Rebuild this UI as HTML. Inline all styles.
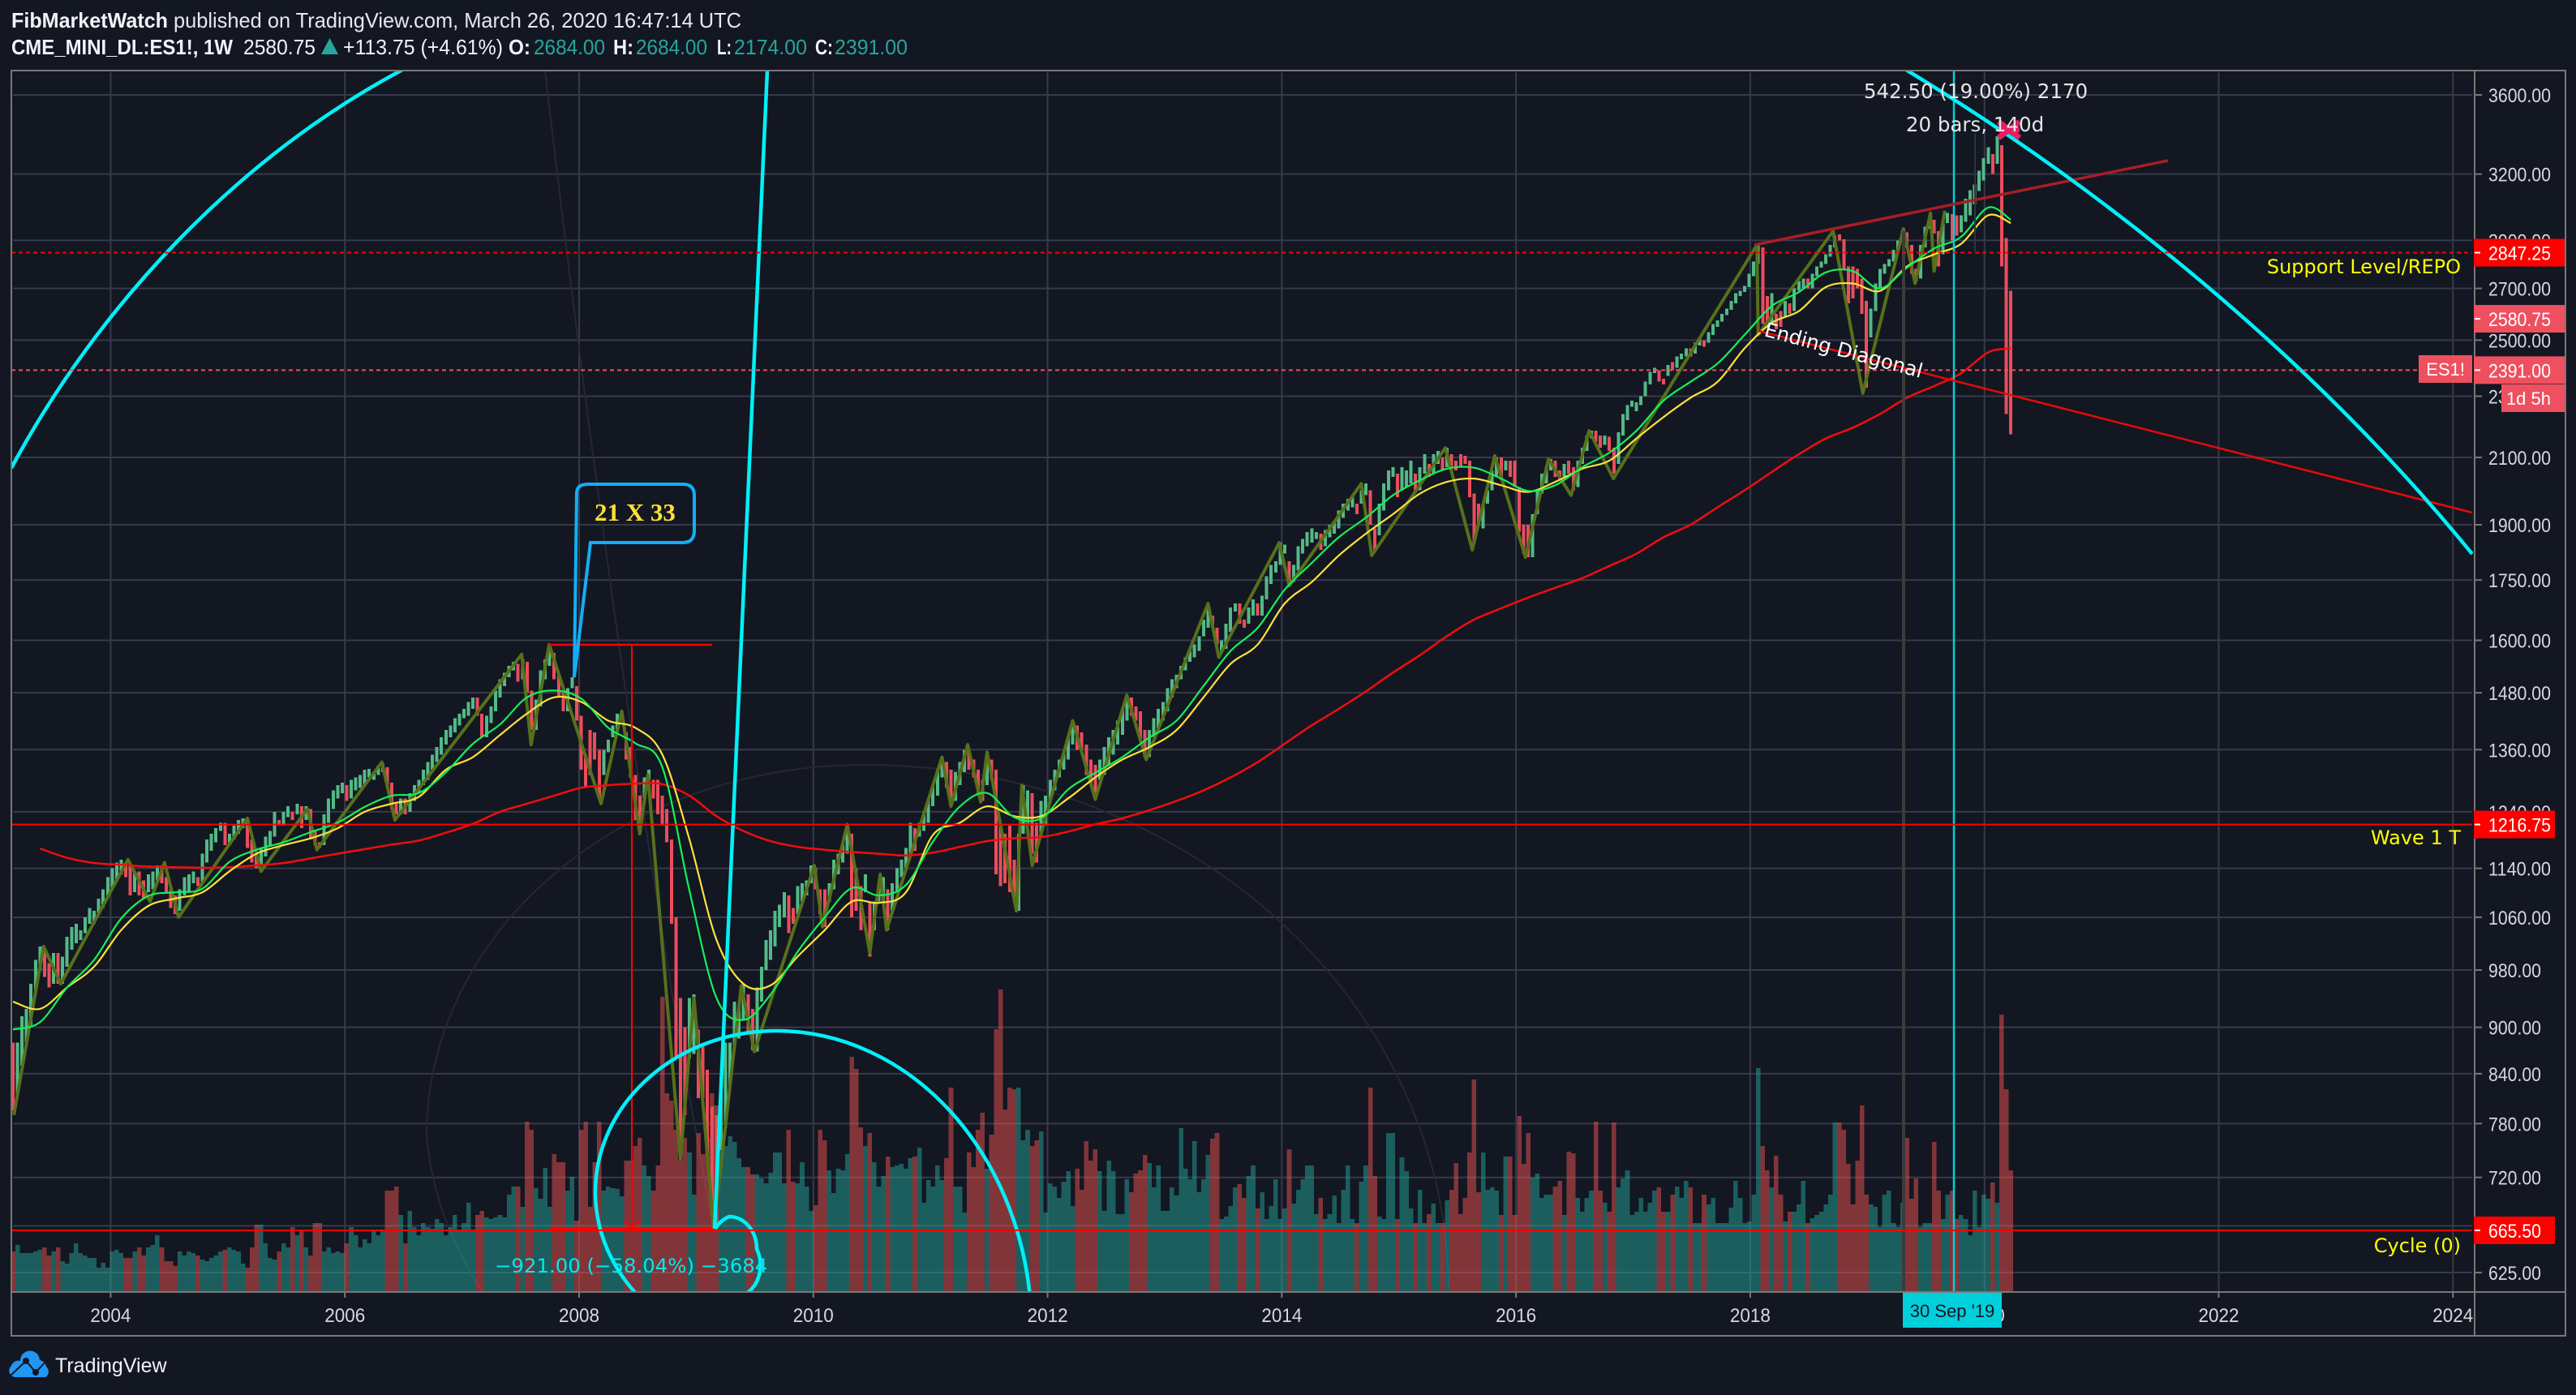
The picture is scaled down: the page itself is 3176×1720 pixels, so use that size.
<!DOCTYPE html>
<html lang="en">
<head>
<meta charset="utf-8">
<title>ES1! weekly chart</title>
<style>
html,body{margin:0;padding:0;background:#131722;width:3176px;height:1720px;overflow:hidden}
svg{display:block}
text{font-family:"Liberation Sans",sans-serif}
.dj{font-family:"DejaVu Sans",sans-serif}
</style>
</head>
<body>
<svg id="chart" xmlns="http://www.w3.org/2000/svg" width="3176" height="1720" viewBox="0 0 3176 1720">
<defs><clipPath id="plotClip"><rect x="15" y="88" width="3034" height="1505"/></clipPath></defs>
<rect x="0" y="0" width="3176" height="1720" fill="#131722"/>

<g font-size="26" fill="#f0f3fa">
<text x="14" y="34" font-weight="700" textLength="193" lengthAdjust="spacingAndGlyphs">FibMarketWatch</text>
<text x="214" y="34" fill="#e6e8ee" textLength="700" lengthAdjust="spacingAndGlyphs">published on TradingView.com, March 26, 2020 16:47:14 UTC</text>
<text x="14" y="67" font-weight="700" textLength="273" lengthAdjust="spacingAndGlyphs">CME_MINI_DL:ES1!, 1W</text>
<text x="300" y="67" textLength="89" lengthAdjust="spacingAndGlyphs">2580.75</text>
<polygon points="396,67 417,67 406.5,47" fill="#26a69a"/>
<text x="423" y="67" textLength="197" lengthAdjust="spacingAndGlyphs">+113.75 (+4.61%)</text>
<text x="627" y="67" font-weight="700" textLength="27" lengthAdjust="spacingAndGlyphs">O:</text>
<text x="658" y="67" fill="#26a69a" textLength="88" lengthAdjust="spacingAndGlyphs">2684.00</text>
<text x="756" y="67" font-weight="700" textLength="25" lengthAdjust="spacingAndGlyphs">H:</text>
<text x="784" y="67" fill="#26a69a" textLength="88" lengthAdjust="spacingAndGlyphs">2684.00</text>
<text x="884" y="67" font-weight="700" textLength="18" lengthAdjust="spacingAndGlyphs">L:</text>
<text x="905" y="67" fill="#26a69a" textLength="90" lengthAdjust="spacingAndGlyphs">2174.00</text>
<text x="1005" y="67" font-weight="700" textLength="22" lengthAdjust="spacingAndGlyphs">C:</text>
<text x="1029" y="67" fill="#26a69a" textLength="90" lengthAdjust="spacingAndGlyphs">2391.00</text>
</g>

<g id="gridLayer"></g>

<g clip-path="url(#plotClip)" fill="none" stroke="#252833" stroke-width="2">
<path d="M1066,943 A540,457 0 0 0 526,1400 A540,457 0 0 0 600,1600"/>
<path d="M1066,943 A720,650 0 0 1 1786,1593"/>
<path d="M672,87 C720,500 800,1100 880,1515"/>
</g>

<g id="volumeLayer" clip-path="url(#plotClip)"></g>
<g id="candleLayer" clip-path="url(#plotClip)"></g>
<g id="swingLayer" clip-path="url(#plotClip)"></g>
<g id="maLayer" clip-path="url(#plotClip)"></g>

<g clip-path="url(#plotClip)" fill="none">
<line x1="2347" y1="285" x2="2347" y2="1593" stroke="#3c3c3c" stroke-width="4"/>
<line x1="2409" y1="88" x2="2409" y2="1593" stroke="#00cfdc" stroke-width="2.5"/>
<line x1="2435" y1="165" x2="2435" y2="310" stroke="#2b3645" stroke-width="2"/>
<line x1="2163" y1="302" x2="2673" y2="198" stroke="#a81e24" stroke-width="3.5"/>
<line x1="2168" y1="408" x2="3048" y2="632" stroke="#e60a0a" stroke-width="2.5"/>
<line x1="677" y1="795" x2="878" y2="795" stroke="#ff0000" stroke-width="2.5"/>
<line x1="779" y1="795" x2="779" y2="1515" stroke="#ff0000" stroke-width="2"/>
<line x1="677" y1="1515" x2="881" y2="1515" stroke="#ff0000" stroke-width="4"/>
<polyline points="769,1505 779,1515 789,1505" stroke="#ff0000" stroke-width="2"/>
<g stroke="#00f0f8" stroke-width="4.5">
<path d="M14,577 C120,380 290,195 500,84"/>
<path d="M2340,80 C2590,230 2850,440 3048,683"/>
<path d="M881,1515 C892,1250 905,900 946,87"/>
<path d="M957,1271 A223,199 0 0 0 734,1470 A223,199 0 0 0 790,1601"/>
<path d="M957,1271 A315,370 0 0 1 1272,1641"/>
<path d="M882,1515 A34,40 0 0 1 899,1500 A34,40 0 0 1 933,1540 A34,40 0 0 1 905,1600"/>
</g>
<path d="M2464,150 L2490,170 M2490,150 L2464,170 M2464,160 H2490" stroke="#e91e63" stroke-width="7"/>
</g>

<g id="levelLayer"></g>

<g>
<text class="dj" x="0" y="0" font-size="24.5" fill="#ffffff" transform="translate(2174,414) rotate(15)">Ending Diagonal</text>
<text class="dj" x="3034" y="337" font-size="24" fill="#ffff00" text-anchor="end">Support Level/REPO</text>
<text class="dj" x="3034" y="1041" font-size="24" fill="#ffff00" text-anchor="end">Wave 1 T</text>
<text class="dj" x="3034" y="1544" font-size="24" fill="#ffff00" text-anchor="end">Cycle (0)</text>
<text class="dj" x="2436" y="121" font-size="24.5" fill="#e6e6e6" text-anchor="middle">542.50 (19.00%) 2170</text>
<text class="dj" x="2435" y="162" font-size="24.5" fill="#e6e6e6" text-anchor="middle">20 bars, 140d</text>
<text class="dj" x="610" y="1569" font-size="24.4" fill="#00e8f0">−921.00 (−58.04%) −3684</text>
<path d="M711,608 Q711,597 725,597 L842,597 Q856,597 856,611 L856,654 Q856,669 842,669 L728,669 L708,835 L711,608 Z" fill="none" stroke="#12aef5" stroke-width="4"/>
<text x="783" y="642" font-size="31" font-weight="700" fill="#ffe135" text-anchor="middle" style="font-family:'Liberation Serif',serif">21 X 33</text>
</g>

<g id="axisLayer"></g>

<g fill="none" stroke="#787878" stroke-width="2">
<rect x="14" y="87" width="3149" height="1560"/>
<line x1="3051" y1="87" x2="3051" y2="1647"/>
<line x1="14" y1="1593" x2="3163" y2="1593"/>
</g>

<g id="tagLayer"></g>

<g>
<rect x="2346" y="1594" width="122" height="43" fill="#00cfdc"/>
<text x="2407" y="1624" font-size="22" fill="#131722" text-anchor="middle">30 Sep '19</text>
<rect x="2982" y="438" width="66" height="34" fill="#ee5060"/>
<text x="3039" y="463" font-size="22" fill="#fff" text-anchor="end">ES1!</text>
<rect x="3084" y="474" width="78" height="34" fill="#ee5060"/>
<text x="3145" y="499" font-size="22" fill="#fff" text-anchor="end">1d 5h</text>
</g>

<g>
<path d="M20,1698 a8,8 0 0 1 -6,-14 a9,9 0 0 1 11,-6 a12,12 0 0 1 24,-1 a10,10 0 0 1 8,8 a8,8 0 0 1 -1,13 z" fill="#2196f3"/>
<polyline points="13,1696 32,1678 44,1692 59,1676" fill="none" stroke="#131722" stroke-width="2"/>
<circle cx="32" cy="1678" r="4" fill="#131722"/>
<circle cx="44" cy="1692" r="4" fill="#131722"/>
<text x="68" y="1692" font-size="25" fill="#f0f3fa">TradingView</text>
</g>
</svg>

<script>
const priceTicks = [3600,3200,2900,2700,2500,2300,2100,1900,1750,1600,1480,1360,1240,1140,1060,980,900,840,780,720,670,625];
const yearTicks = [2004,2006,2008,2010,2012,2014,2016,2018,2020,2022,2024];
const tagPrices = [2847.25,2580.75,2391.00,1216.75,665.50];
const linePrices = [2847.25,2391.00,1216.75,665.50];

const opens = [
880,815,850,880,900,950,980,1010,990,960,
1005,960,985,1010,1020,1025,1035,1050,1050,1065,
1075,1095,1105,1120,1130,1150,1145,1100,1135,1120,
1100,1105,1120,1145,1125,1105,1095,1070,1095,1100,
1115,1125,1115,1150,1170,1185,1205,1220,1180,1190,
1200,1210,1225,1190,1170,1145,1160,1180,1195,1225,
1215,1230,1240,1235,1250,1225,1245,1205,1185,1180,
1220,1245,1265,1275,1290,1265,1280,1285,1290,1305,
1300,1310,1315,1325,1295,1255,1235,1265,1240,1260,
1275,1290,1300,1320,1335,1350,1370,1385,1395,1410,
1425,1430,1445,1470,1435,1385,1415,1440,1470,1495,
1515,1530,1545,1510,1550,1485,1400,1450,1510,1540,
1570,1520,1480,1440,1490,1495,1430,1350,1400,1395,
1360,1310,1355,1385,1395,1425,1395,1365,1310,1270,
1265,1300,1300,1300,1270,1245,1190,1060,940,900,
860,865,897,875,845,800,790,750,775,825,
875,885,910,945,925,868,935,980,995,1015,
1045,1060,1095,1075,1065,1085,1095,1115,1140,1105,
1105,1085,1105,1130,1150,1165,1200,1140,1110,1100,
1085,1040,1085,1085,1105,1070,1100,1125,1140,1165,
1210,1195,1205,1220,1250,1270,1305,1335,1320,1260,
1290,1315,1360,1340,1320,1300,1290,1340,1320,1215,
1200,1215,1155,1070,1200,1215,1275,1220,1195,1215,
1260,1280,1305,1320,1340,1370,1410,1395,1370,1340,
1330,1300,1310,1330,1350,1370,1390,1420,1470,1450,
1440,1400,1345,1385,1400,1420,1440,1470,1490,1510,
1530,1550,1560,1575,1610,1630,1660,1630,1570,1580,
1620,1670,1690,1650,1640,1660,1690,1660,1700,1740,
1770,1790,1820,1800,1745,1775,1820,1840,1850,1860,
1875,1840,1865,1875,1890,1920,1940,1950,1960,1960,
1985,2000,1890,1870,1940,2000,2040,2050,2000,2010,
2020,2050,2000,2050,2080,2050,2080,2100,2070,2110,
2090,2110,2105,2090,1990,1960,1890,1960,2000,2040,
2100,2060,2090,2090,2010,1900,1900,1810,1930,1990,
2020,2060,2090,2060,2040,2090,2070,2010,2080,2120,
2160,2185,2170,2140,2165,2130,2080,2170,2220,2265,
2250,2270,2300,2340,2380,2390,2360,2370,2420,2400,
2430,2440,2470,2450,2480,2500,2490,2520,2550,2570,
2595,2615,2640,2670,2685,2705,2750,2800,2870,2670,
2560,2600,2610,2590,2640,2610,2690,2700,2740,2700,
2750,2785,2800,2830,2870,2925,2905,2790,2790,2780,
2740,2650,2510,2610,2700,2760,2790,2810,2850,2890,
2935,2880,2780,2740,2870,2950,2990,2940,2840,2975,
3015,3010,2935,2980,3010,3060,3120,3170,3250,3296,
3250,3340,2910,2690];

const closes = [
795,880,915,925,960,995,1015,970,955,1005,
960,1000,1030,1045,1050,1040,1060,1075,1070,1090,
1105,1125,1140,1150,1155,1125,1095,1135,1095,1090,
1130,1135,1145,1115,1100,1075,1065,1105,1125,1130,
1135,1110,1165,1190,1200,1210,1220,1180,1200,1215,
1225,1228,1175,1150,1140,1175,1195,1205,1240,1215,
1240,1250,1225,1255,1210,1250,1190,1180,1175,1235,
1265,1280,1290,1295,1260,1300,1305,1310,1320,1322,
1315,1328,1332,1290,1245,1235,1265,1235,1275,1290,
1300,1320,1335,1350,1365,1385,1400,1410,1425,1435,
1445,1460,1470,1430,1385,1430,1450,1485,1510,1525,
1540,1550,1505,1555,1480,1400,1465,1530,1555,1585,
1510,1470,1440,1490,1515,1420,1320,1285,1310,1340,
1265,1360,1380,1410,1435,1440,1340,1305,1225,1200,
1305,1320,1265,1235,1215,1185,1050,860,745,790,
940,945,810,810,745,680,670,835,880,880,
935,925,960,895,870,955,985,1025,1040,1070,
1080,1100,1035,1050,1110,1115,1120,1145,1105,1065,
1045,1115,1155,1165,1185,1215,1060,1070,1040,1130,
1000,1085,1115,1125,1040,1115,1140,1155,1175,1220,
1170,1220,1240,1265,1290,1320,1340,1285,1255,1315,
1335,1360,1320,1305,1270,1260,1355,1300,1130,1110,
1115,1100,1085,1200,1290,1280,1165,1150,1260,1270,
1300,1320,1340,1355,1385,1415,1360,1360,1310,1290,
1270,1340,1365,1385,1400,1420,1445,1475,1430,1420,
1380,1345,1400,1425,1445,1460,1490,1510,1520,1540,
1560,1575,1590,1610,1650,1690,1630,1590,1600,1640,
1680,1690,1640,1630,1680,1700,1660,1710,1760,1790,
1800,1850,1845,1740,1790,1840,1860,1880,1890,1880,
1830,1885,1900,1910,1940,1960,1975,1985,1930,2000,
2020,1900,1830,1960,2020,2060,2070,1980,2070,2060,
2090,2000,2070,2110,2040,2110,2120,2060,2130,2070,
2060,2070,2080,1980,1850,1900,1960,2000,2060,2100,
2030,2090,2040,2010,1880,1820,1810,1930,2000,2050,
2070,2095,2040,2030,2080,2050,2000,2090,2130,2170,
2185,2150,2130,2170,2120,2050,2180,2240,2270,2285,
2280,2300,2350,2385,2400,2350,2340,2410,2390,2440,
2450,2470,2440,2490,2510,2475,2530,2560,2575,2600,
2620,2650,2680,2690,2710,2760,2810,2880,2560,2550,
2680,2540,2550,2650,2600,2700,2730,2740,2700,2760,
2790,2810,2840,2880,2920,2900,2780,2640,2660,2700,
2600,2330,2620,2720,2780,2800,2820,2860,2900,2940,
2870,2760,2730,2880,2960,3000,2930,2790,2980,3020,
2900,2920,3010,3085,3125,3150,3217,3276,3331,3200,
3385,2790,2240,2174];

const volumes = [
50,58,48,48,48,50,52,55,45,50,
55,38,35,48,60,48,45,42,42,30,
36,30,50,52,48,42,42,50,55,45,
55,58,70,55,38,38,32,50,45,50,
48,45,40,38,42,45,50,52,55,52,
50,35,30,55,83,83,60,42,40,50,
60,55,80,70,75,55,45,85,85,50,
55,48,50,48,60,80,70,55,65,60,
75,70,75,125,125,130,95,60,100,80,
70,85,80,78,90,85,70,80,95,75,
85,110,75,95,100,92,90,92,95,92,
120,130,130,105,210,200,128,115,153,105,
170,160,160,125,142,88,200,210,105,160,
210,125,130,128,127,118,162,162,180,190,
156,143,125,156,364,245,236,200,163,190,
172,120,196,170,190,245,230,175,180,192,
185,165,154,154,145,145,140,134,147,172,
172,134,200,136,134,160,130,100,107,200,
187,150,122,152,150,170,290,275,203,180,
196,160,130,143,167,154,156,158,152,165,
167,178,110,138,130,156,138,165,252,130,
130,98,172,154,200,221,152,194,324,373,
225,252,250,252,187,200,180,187,198,98,
134,130,116,136,149,106,152,126,186,162,
176,149,100,162,149,96,96,139,123,146,
150,169,159,129,156,100,100,129,119,202,
152,139,186,123,139,169,189,196,90,93,
106,129,133,116,143,156,103,123,90,106,
139,90,103,176,109,126,139,156,156,96,
116,90,96,119,85,126,156,90,85,136,
156,252,143,93,90,196,196,90,166,149,
103,85,126,85,96,109,85,85,113,126,
159,96,116,172,262,123,172,126,129,125,
95,167,167,95,217,158,196,141,146,116,
120,120,130,137,95,173,171,116,99,116,
125,210,125,110,99,209,129,140,150,95,
99,116,99,110,125,129,99,99,120,130,
116,137,129,85,85,120,108,116,85,85,
85,104,137,116,85,87,120,276,180,150,
129,168,120,87,99,99,108,137,85,91,
95,99,108,120,209,209,200,158,108,162,
230,120,108,105,80,120,125,85,80,110,
190,115,140,80,85,85,185,125,90,120,
125,90,95,90,70,125,80,120,115,135,
110,342,250,150];

const swingBars = [0.2,6.8,10.6,25.5,30.4,33.6,36.7,52,55,65.3,67.4,81.8,84.7,112.8,114.9,118.9,130.4,135,139,140.8,148,151,155.4,161.5,164.4,177.7,179.5,185,190,192.3,193.7,206,208,211.7,214.6,216,222.5,223.7,226,235,240,247,251.3,265,267.4,280.8,283,299,301.3,317.6,323.6,328.6,335.4,340.5,345.5,349.5,354.9,386.7,387,403.6,410.2,419.2,421.8,425.2,426,428.4];
const swingPrices = [790,1015,960,1155,1085,1150,1060,1228,1135,1245,1172,1335,1225,1567,1370,1590,1255,1440,1200,1310,740,940,666,957,868,1145,1045,1217,1005,1130,1040,1345,1250,1370,1258,1355,1070,1290,1145,1420,1263,1475,1340,1690,1560,1850,1735,2020,1815,2130,1830,2105,1810,2095,1985,2185,2035,2880,2520,2940,2310,2950,2720,3020,2770,3030];

const maFastValues = [897,907,955,995,1058,1094,1100,1106,1151,1172,1185,1203,1220,1249,1270,1275,1315,1372,1412,1470,1485,1467,1405,1373,1325,1103,940,910,945,1007,1060,1107,1095,1112,1186,1250,1275,1230,1228,1282,1314,1345,1385,1420,1495,1575,1630,1725,1795,1865,1920,1985,2030,2065,2068,2035,1998,2015,2070,2115,2185,2285,2350,2415,2520,2630,2685,2765,2770,2700,2785,2865,2915,3045,2990];
const maSlowValues = [935,925,955,985,1040,1078,1090,1100,1135,1165,1180,1192,1210,1240,1255,1268,1320,1345,1390,1435,1470,1460,1420,1405,1350,1190,1025,960,958,1000,1040,1085,1083,1100,1198,1220,1250,1232,1232,1265,1305,1340,1365,1400,1470,1545,1590,1690,1745,1815,1875,1930,1990,2025,2035,2015,1995,2025,2065,2090,2160,2230,2295,2350,2470,2565,2610,2705,2720,2690,2790,2840,2885,3010,2975];
const maLongValues = [1174,1158,1149,1146,1143,1142,1141,1142,1145,1149,1157,1165,1173,1181,1188,1202,1218,1240,1255,1270,1285,1290,1293,1292,1270,1232,1205,1187,1177,1172,1168,1165,1162,1167,1177,1187,1192,1194,1204,1217,1228,1243,1260,1280,1305,1335,1372,1410,1445,1483,1525,1565,1610,1650,1678,1705,1730,1755,1787,1820,1865,1900,1950,2000,2055,2110,2160,2195,2240,2295,2335,2380,2455,2470];

const NS = 'http://www.w3.org/2000/svg';
const PLOT_LEFT = 16, PLOT_RIGHT = 3048, PLOT_TOP = 88, PLOT_BOTTOM = 1593, AXIS_X = 3051;
const BAR_STEP = 5.56, MA_STEP = 6, YEAR_BARS = 25.97, FIRST_YEAR = 2003.166;

function barX(i){ return PLOT_LEFT + BAR_STEP * i; }
function yearX(y){ return barX((y - FIRST_YEAR) * YEAR_BARS); }
function priceY(p){ return 117 + 829.3 * Math.log(3600 / p); }
function volumeY(v){ return PLOT_BOTTOM - v; }
function node(tag, parent, attrs){
  const n = document.createElementNS(NS, tag);
  for (const k in attrs) n.setAttribute(k, attrs[k]);
  parent.appendChild(n);
  return n;
}
const gridLayer = document.getElementById('gridLayer');
const axisLayer = document.getElementById('axisLayer');
const volumeLayer = document.getElementById('volumeLayer');
const candleLayer = document.getElementById('candleLayer');
const swingLayer = document.getElementById('swingLayer');
const maLayer = document.getElementById('maLayer');
const levelLayer = document.getElementById('levelLayer');
const tagLayer = document.getElementById('tagLayer');

priceTicks.forEach(function(p){
  const y = priceY(p);
  const g = node('line', gridLayer, {x1:PLOT_LEFT, x2:PLOT_RIGHT, y1:y, y2:y, stroke:'#363a4a', 'stroke-width':2});
  
  
  const t = node('line', axisLayer, {x1:AXIS_X, x2:AXIS_X+9, y1:y, y2:y, stroke:'#787878', 'stroke-width':2});
  
  
  const s = p.toFixed(2);
  const l = node('text', axisLayer, {x:3068, y:y+9, 'font-size':24, fill:'#d6d8de', textLength: s.length === 7 ? 77 : 65, lengthAdjust:'spacingAndGlyphs'});
  l.textContent = s;
  
  
});

yearTicks.forEach(function(yr){
  const x = yearX(yr);
  const g = node('line', gridLayer, {x1:x, x2:x, y1:PLOT_TOP+1, y2:PLOT_BOTTOM, stroke:'#363a4a', 'stroke-width':2});
  
  
  const t = node('line', axisLayer, {x1:x, x2:x, y1:PLOT_BOTTOM, y2:PLOT_BOTTOM+7, stroke:'#787878', 'stroke-width':2});
  
  
  const l = node('text', axisLayer, {x:x-25, y:1630, 'font-size':24, fill:'#d6d8de', textLength:50, lengthAdjust:'spacingAndGlyphs'});
  l.textContent = String(yr);
  
  
});

volumes.forEach(function(v, i){
  const down = closes[i] < opens[i];
  const r = node('rect', volumeLayer, {x:barX(i)-BAR_STEP/2, y:volumeY(v), width:BAR_STEP, height:PLOT_BOTTOM-volumeY(v), fill: down ? 'rgba(239,83,80,0.5)' : 'rgba(38,166,154,0.5)', 'shape-rendering':'crispEdges'});
  
  
});

closes.forEach(function(c, i){
  const o = opens[i];
  const top = priceY(Math.max(o, c));
  const bottom = priceY(Math.min(o, c));
  const r = node('rect', candleLayer, {x:barX(i)-2, y:top, width:4, height:Math.max(1, bottom-top), fill: c < o ? '#eb4d5c' : '#53b987', 'shape-rendering':'crispEdges'});
  
  
});

const swingLine = node('polyline', swingLayer, {
  points: swingBars.map(function(b, i){ return barX(b).toFixed(1) + ',' + priceY(swingPrices[i]).toFixed(1); }).join(' '),
  fill:'none', stroke:'#56701a', 'stroke-width':4, 'stroke-linejoin':'round'
});



function maPath(values, startStep){
  const pts = values.map(function(v, k){
    const bar = Math.min((k + startStep) * MA_STEP, closes.length - 1);
    return [barX(bar), priceY(v)];
  });
  let d = 'M' + pts[0][0].toFixed(1) + ',' + pts[0][1].toFixed(1);
  for (let i = 0; i < pts.length - 1; i++) {
    const a = pts[Math.max(i - 1, 0)], b = pts[i], c = pts[i + 1], e = pts[Math.min(i + 2, pts.length - 1)];
    const c1x = b[0] + (c[0] - a[0]) / 6, c1y = b[1] + (c[1] - a[1]) / 6;
    const c2x = c[0] - (e[0] - b[0]) / 6, c2y = c[1] - (e[1] - b[1]) / 6;
    d += ' C' + c1x.toFixed(1) + ',' + c1y.toFixed(1) + ' ' + c2x.toFixed(1) + ',' + c2y.toFixed(1) + ' ' + c[0].toFixed(1) + ',' + c[1].toFixed(1);
  }
  return d;
}
const longLine = node('path', maLayer, {d:maPath(maLongValues, 1), fill:'none', stroke:'#f20d0d', 'stroke-width':2.5});


const slowLine = node('path', maLayer, {d:maPath(maSlowValues, 0), fill:'none', stroke:'#ffe23b', 'stroke-width':2.2});


const fastLine = node('path', maLayer, {d:maPath(maFastValues, 0), fill:'none', stroke:'#14f05a', 'stroke-width':2.2});



linePrices.forEach(function(p, i){
  const y = priceY(p);
  const dashed = i < 2;
  const endX = i === 1 ? 2982 : PLOT_RIGHT;
  const a = {x1:14, x2:endX, y1:y, y2:y, stroke: i === 1 ? '#ee5060' : '#ff0000', 'stroke-width':2};
  if (dashed) a['stroke-dasharray'] = '5 4';
  const l = node('line', levelLayer, a);
  
  
});

tagPrices.forEach(function(p, i){
  const y = priceY(p);
  const hard = i === 0 || i >= 3;
  const w = i >= 3 ? 100 : 112;
  const r = node('rect', tagLayer, {x:3050, y:y-17, width:w, height:34, fill: hard ? '#ff0000' : '#ee5060'});
  
  
  const d = node('line', tagLayer, {x1:3051, x2:3058, y1:y, y2:y, stroke:'#ffffff', 'stroke-width':2});
  
  
  const s = p.toFixed(2);
  const t = node('text', tagLayer, {x:3068, y:y+9, 'font-size':24, fill:'#ffffff', textLength: s.length === 7 ? 77 : 65, lengthAdjust:'spacingAndGlyphs'});
  t.textContent = s;
  
  
});
</script>
</body>
</html>
